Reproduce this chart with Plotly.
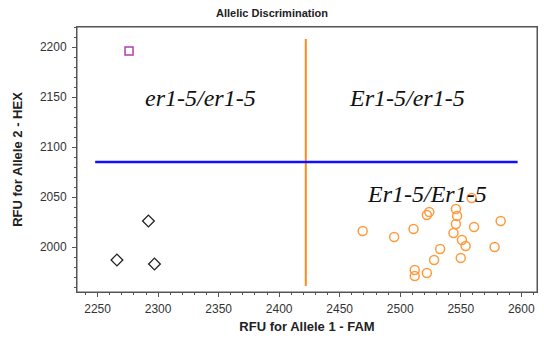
import plotly.graph_objects as go

# ---- data ----
fam_x_pts = [2469, 2495, 2511, 2522, 2524, 2512, 2512, 2522, 2528, 2533, 2546, 2547,
             2546, 2544, 2551, 2554, 2550, 2559, 2561, 2578, 2583]
hex_x_pts = [2016, 2010, 2018, 2032, 2035, 1977, 1971, 1974, 1987, 1998, 2038, 2031,
             2023, 2014, 2007, 2001, 1989, 2049, 2020, 2000, 2026]

het_fam = [2266, 2292, 2297]
het_hex = [1987, 2026, 1983]

ntc_fam = [2276]
ntc_hex = [2196]

vline_fam = [2422, 2422]
vline_hex = [1961, 2208]
hline_fam = [2248, 2597]
hline_hex = [2085, 2085]

labels = ["er1-5/er1-5", "Er1-5/er1-5", "Er1-5/Er1-5"]
label_fam = [2335, 2506, 2522]
label_hex = [2149, 2149, 2053]

x_range = [2233, 2613]
y_range = [1955, 2220]

fig = go.Figure()

fig.add_trace(go.Scatter(x=vline_fam, y=vline_hex, mode="lines",
                         line=dict(color="#FF8A1C", width=2), hoverinfo="skip"))
fig.add_trace(go.Scatter(x=hline_fam, y=hline_hex, mode="lines",
                         line=dict(color="#1010FF", width=2.5), hoverinfo="skip"))
fig.add_trace(go.Scatter(x=fam_x_pts, y=hex_x_pts, mode="markers",
                         marker=dict(symbol="circle-open", size=9, color="#FF9A3C",
                                     line=dict(width=1.5))))
fig.add_trace(go.Scatter(x=het_fam, y=het_hex, mode="markers",
                         marker=dict(symbol="diamond-open", size=9, color="#222222",
                                     line=dict(width=1.3))))
fig.add_trace(go.Scatter(x=ntc_fam, y=ntc_hex, mode="markers",
                         marker=dict(symbol="square-open", size=8, color="#B23CB2",
                                     line=dict(width=1.5))))

for t, fx, hy in zip(labels, label_fam, label_hex):
    fig.add_annotation(x=fx, y=hy, text=t, showarrow=False, xanchor="center", yanchor="middle",
                       font=dict(family="Liberation Serif", size=24, color="#111111", style="italic"))

# plot frame
fig.add_shape(type="rect", xref="x domain", yref="y domain", x0=0, x1=1, y0=0, y1=1,
              line=dict(color="#555555", width=1), layer="above")

axis_common = dict(showgrid=False, zeroline=False, showline=True, mirror=True,
                   linecolor="#555555", linewidth=1, tickcolor="#555555", tickwidth=1)

fig.update_layout(
    width=544, height=345,
    margin=dict(l=77, r=7, t=27, b=53),
    paper_bgcolor="white", plot_bgcolor="white",
    showlegend=False,
    title=dict(text="<b>Allelic Discrimination</b>", x=0.5, xanchor="center", y=1 - 13 / 345,
               yanchor="middle", font=dict(family="Liberation Sans", size=11, color="#222222")),
    xaxis=dict(range=x_range, tick0=2250, dtick=50, ticks="outside", ticklen=4,
               minor=dict(ticks="outside", ticklen=2, dtick=10, tickcolor="#555555"),
               ticklabelstandoff=2,
               tickfont=dict(family="Liberation Sans", size=12, color="#333333"),
               title=dict(text="<b>RFU for Allele 1 - FAM</b>", standoff=6,
                          font=dict(family="Liberation Sans", size=13, color="#222222")),
               **axis_common),
    yaxis=dict(range=y_range, tick0=2000, dtick=50, ticks="outside", ticklen=4,
               minor=dict(ticks="outside", ticklen=2, dtick=10, tickcolor="#555555"),
               ticklabelstandoff=3,
               tickfont=dict(family="Liberation Sans", size=12, color="#333333"),
               title=dict(text="<b>RFU for Allele 2 - HEX</b>", standoff=14,
                          font=dict(family="Liberation Sans", size=13, color="#222222")),
               **axis_common),
)

fig.write_html("out.html")
